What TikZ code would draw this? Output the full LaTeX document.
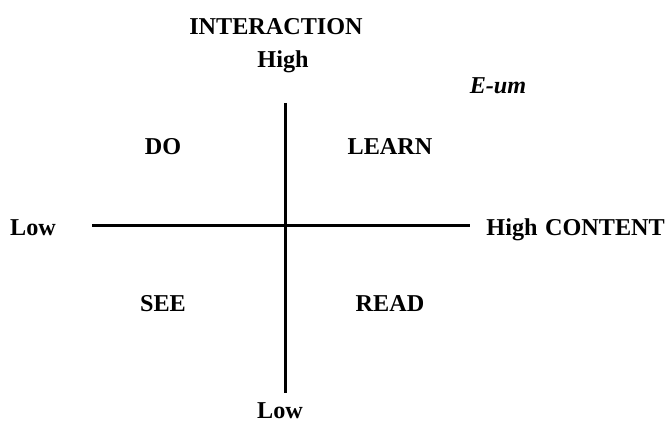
\documentclass[tikz,border=0pt]{standalone}
\usepackage{fontspec}
\setmainfont{Liberation Serif}
\begin{document}
\begin{tikzpicture}[x=1pt,y=1pt,
  lbl/.style={font=\fontsize{24.2}{28}\selectfont\bfseries, inner sep=0pt, anchor=base},
  axis/.style={line width=3pt}]
\useasboundingbox (0,0) rectangle (667,426);
\node[lbl] (inter) at (276,426-35) {INTERACTION};
\node[lbl] (hightop) at (283,426-68) {High};
\node[lbl, font=\fontsize{24.2}{28}\selectfont\bfseries\itshape] (eum) at (498,426-94) {E-um};
\node[lbl] (do) at (163,426-155) {DO};
\node[lbl] (learn) at (390,426-155) {LEARN};
\node[lbl] (see) at (163,426-312) {SEE};
\node[lbl] (read) at (390,426-312) {READ};
\node[lbl] (lowleft) at (33,426-236) {Low};
\node[lbl] (highright) at (512,426-236) {High};
\node[lbl] (content) at (605,426-236) {CONTENT};
\node[lbl] (lowbot) at (280,426-418) {Low};
\coordinate (vt) at (285,426-103);
\coordinate (vb) at (285,426-393);
\coordinate (hl) at (92,426-226);
\coordinate (hr) at (470,426-226);
\draw[axis] (vt) -- (vb);
\draw[axis] (hl) -- (hr);
\end{tikzpicture}
\end{document}
